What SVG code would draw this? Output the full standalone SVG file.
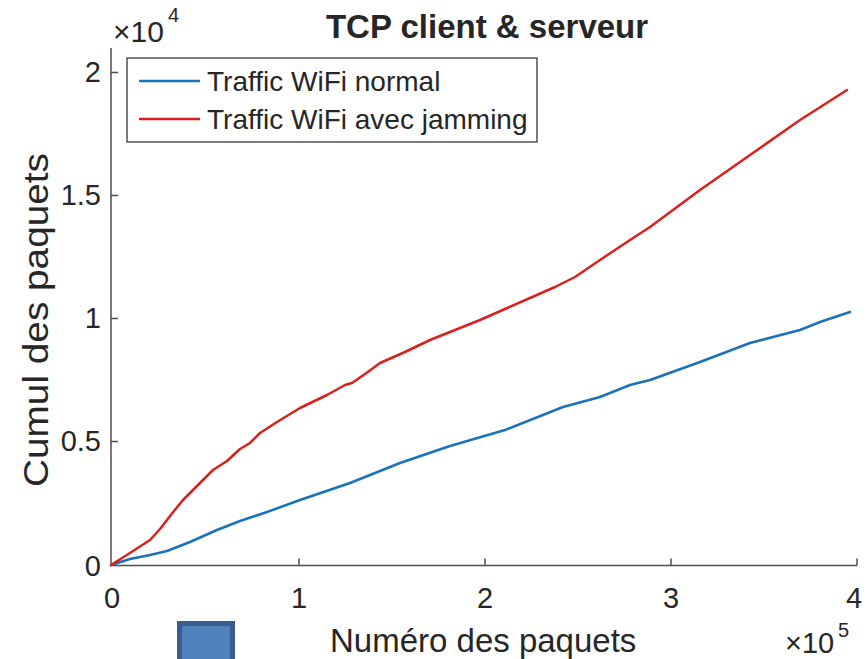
<svg xmlns="http://www.w3.org/2000/svg" width="867" height="659" viewBox="0 0 867 659">
<style>
text{font-family:"Liberation Sans",Arial,sans-serif;fill:#262626}
.tick{font-size:29px}
.ax{stroke:#4d4d4d;stroke-width:1.5;fill:none}
.curve{fill:none;stroke-width:2.5;stroke-linejoin:round;stroke-linecap:round}
</style>
<rect width="867" height="659" fill="#fff"/>
<g id="axes">
<path class="ax" d="M111,48 V565.5 H857"/>
<path class="ax" d="M111,72.5 h7 M111,195.5 h7 M111,318.5 h7 M111,441.5 h7 M299,565.5 v-7 M485,565.5 v-7 M671,565.5 v-7 M857,565.5 v-7"/>
<text class="tick" x="101" y="82" text-anchor="end">2</text>
<text class="tick" x="101" y="205" text-anchor="end">1.5</text>
<text class="tick" x="101" y="328" text-anchor="end">1</text>
<text class="tick" x="101" y="451" text-anchor="end">0.5</text>
<text class="tick" x="101" y="576" text-anchor="end">0</text>
<text class="tick" x="112" y="608" text-anchor="middle">0</text>
<text class="tick" x="299" y="608" text-anchor="middle">1</text>
<text class="tick" x="485" y="608" text-anchor="middle">2</text>
<text class="tick" x="671" y="608" text-anchor="middle">3</text>
<text class="tick" x="854" y="608" text-anchor="middle">4</text>
<text x="113" y="42" font-size="30">×10</text>
<text x="168" y="22" font-size="20">4</text>
<text x="785" y="653" font-size="29">×10</text>
<text x="838" y="637" font-size="20">5</text>
<text x="330" y="652" font-size="33">Numéro des paquets</text>
<text transform="translate(48,320) rotate(-90)" font-size="35" text-anchor="middle" textLength="334" lengthAdjust="spacingAndGlyphs">Cumul des paquets</text>
<text x="487" y="38" font-size="33" font-weight="bold" text-anchor="middle">TCP client &amp; serveur</text>
</g>
<g id="series">
<path id="normal" class="curve" stroke="#1a72bb" d="M111,565 L130,559 L150,555 L167,551 L190,542 L217,530 L240,521 L267,512 L300,500 L350,483 L400,463 L450,446 L505,430 L563,407 L600,397 L630,385 L650,380 L700,362 L750,343 L800,330 L820,322 L850,312"/>
<path id="jamming" class="curve" stroke="#d9201c" d="M111,565 L130,553 L150,540 L160,529 L170,516 L183,500 L200,483 L213,470 L227,461 L240,449 L250,443 L260,433 L277,422 L300,408 L327,395 L345,385 L352,383 L365,374 L380,363 L405,352 L430,340 L455,330 L480,320 L505,309 L530,298 L555,287 L575,277 L600,260 L630,240 L650,227 L700,190 L750,155 L800,120 L847,90"/>
</g>
<g id="legend">
<rect x="127" y="58" width="410" height="84" fill="#fff" stroke="#262626" stroke-width="1.2"/>
<line x1="139" y1="81" x2="200" y2="81" stroke="#1a72bb" stroke-width="2.5"/>
<line x1="139" y1="119" x2="200" y2="119" stroke="#d9201c" stroke-width="2.5"/>
<text x="207" y="91" font-size="28">Traffic WiFi normal</text>
<text x="207" y="129" font-size="28">Traffic WiFi avec jamming</text>
</g>
<g id="square">
<rect x="179.5" y="623.5" width="53" height="40" fill="#4f81bd" stroke="#3a5e8c" stroke-width="5"/>
</g>
</svg>
